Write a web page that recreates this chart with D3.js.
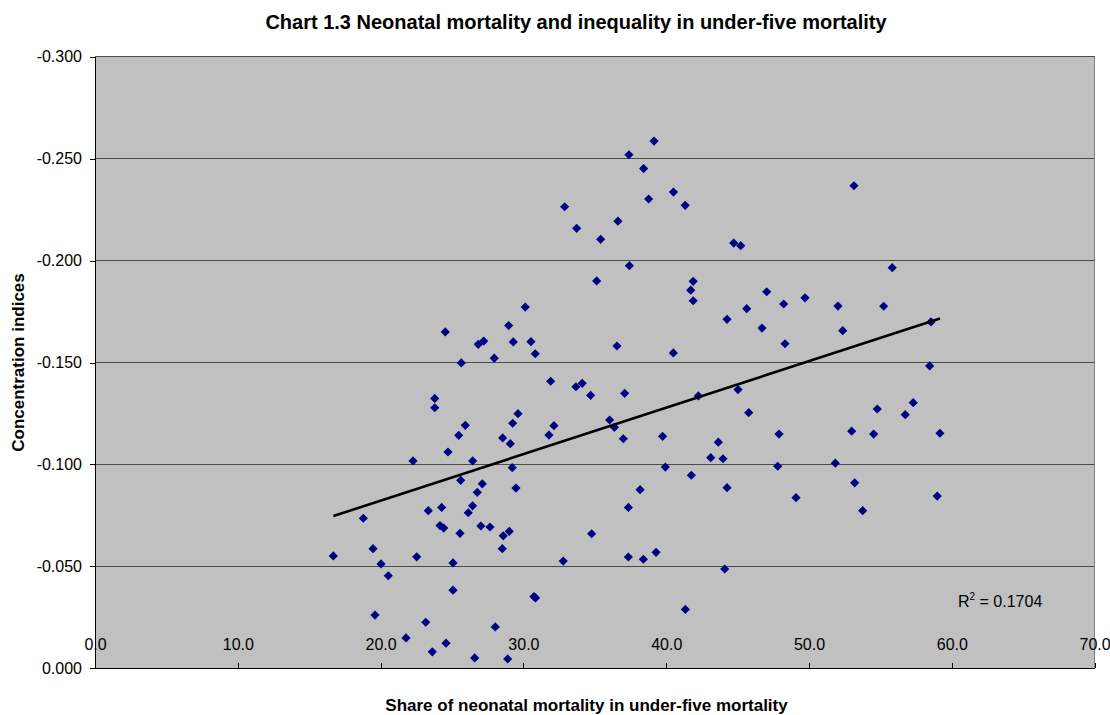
<!DOCTYPE html>
<html>
<head>
<meta charset="utf-8">
<script src="https://cdn.jsdelivr.net/npm/d3@7"></script>
<style>
  html, body { margin: 0; padding: 0; background: #ffffff; }
  svg { display: block; font-family: Arial, "Liberation Sans", Helvetica, sans-serif; }
</style>
</head>
<body>
<svg id="chart" width="1110" height="715"></svg>
<script>
// Share of neonatal mortality in under-five mortality (%), one value per country
const shareNeonatal = [
  39.15, 37.39, 38.42, 40.51, 38.77, 41.33, 32.89, 33.73, 36.62, 35.41,
  37.42, 53.15, 44.73, 45.22, 55.83, 35.13, 41.89, 41.72, 41.89, 30.13,
  47.04, 48.23, 49.72, 52.03, 55.23, 45.64,
  44.26, 46.71, 52.36, 58.54, 48.32, 40.50, 58.45, 45.03, 42.25, 45.78,
  54.78, 57.30, 56.74, 39.75, 43.65, 47.90, 52.99, 54.53, 59.17, 43.12,
  43.98, 39.94, 47.81, 51.84, 41.76, 44.26, 49.09, 53.20, 53.76, 58.98,
  24.53, 28.97, 26.84, 27.22, 29.29, 30.53, 30.83, 27.96, 36.55, 25.65,
  31.91, 33.68, 34.12, 34.71, 37.09, 23.79, 23.79, 29.62, 29.25, 25.93,
  32.14, 36.04, 36.37, 25.47, 28.55, 29.08, 31.79, 37.00, 24.72, 22.27,
  26.45, 29.22, 25.61, 27.12, 26.77, 29.48, 38.17, 37.35, 23.34, 24.28,
  26.44, 26.14, 18.79, 24.16, 24.42, 27.02, 27.66, 28.59, 29.01,
  25.56, 16.69, 19.47, 20.03, 20.54, 22.53, 25.07, 25.07, 19.61, 23.16,
  28.03, 21.78, 24.58, 23.62, 26.59, 28.52,
  30.74, 30.85, 28.90, 32.79, 34.78, 37.35, 38.40, 39.29, 44.10, 41.34
];

// Concentration index of under-five mortality for the same countries
const concIndex = [
  -0.2586, -0.2519, -0.2451, -0.2336, -0.2302, -0.2271, -0.2264, -0.2158, -0.2193, -0.2104,
  -0.1975, -0.2367, -0.2086, -0.2073, -0.1965, -0.1900, -0.1898, -0.1855, -0.1803, -0.1772,
  -0.1847, -0.1787, -0.1817, -0.1777, -0.1776, -0.1764,
  -0.1712, -0.1669, -0.1656, -0.1699, -0.1592, -0.1547, -0.1483, -0.1367, -0.1336, -0.1254,
  -0.1272, -0.1303, -0.1244, -0.1138, -0.1109, -0.1149, -0.1163, -0.1149, -0.1153, -0.1033,
  -0.1028, -0.0987, -0.0991, -0.1006, -0.0947, -0.0886, -0.0837, -0.0910, -0.0773, -0.0845,
  -0.1650, -0.1681, -0.1589, -0.1605, -0.1601, -0.1602, -0.1543, -0.1521, -0.1581, -0.1498,
  -0.1408, -0.1381, -0.1398, -0.1339, -0.1349, -0.1324, -0.1278, -0.1249, -0.1202, -0.1192,
  -0.1190, -0.1218, -0.1182, -0.1143, -0.1130, -0.1102, -0.1144, -0.1126, -0.1061, -0.1017,
  -0.1017, -0.0984, -0.0922, -0.0905, -0.0863, -0.0884, -0.0876, -0.0789, -0.0773, -0.0789,
  -0.0797, -0.0763, -0.0736, -0.0700, -0.0688, -0.0698, -0.0693, -0.0650, -0.0672,
  -0.0662, -0.0551, -0.0587, -0.0512, -0.0454, -0.0547, -0.0517, -0.0383, -0.0261, -0.0226,
  -0.0203, -0.0149, -0.0123, -0.0081, -0.0051, -0.0587,
  -0.0352, -0.0345, -0.0046, -0.0526, -0.0660, -0.0546, -0.0535, -0.0569, -0.0487, -0.0289
];

const xTicks = [0, 10, 20, 30, 40, 50, 60, 70];
const yTicks = [-0.300, -0.250, -0.200, -0.150, -0.100, -0.050, 0.000];
const rSquared = 0.1704;

const titleText = "Chart 1.3 Neonatal mortality and inequality in under-five mortality";
const xTitleText = "Share of neonatal mortality in under-five mortality";
const yTitleText = "Concentration indices";

// number formats with a plain hyphen for the minus sign
const locale = d3.formatLocale({ decimal: ".", thousands: ",", grouping: [3], currency: ["", ""], minus: "-" });
const fmtY = locale.format(".3f");
const fmtX = locale.format(".1f");

const svg = d3.select("#chart");
const plot = { left: 95, right: 1094.6, top: 56.7, bottom: 668.3 };

const x = d3.scaleLinear().domain([0, 70]).range([plot.left, plot.right]);
// values run from -0.300 at the top down to 0.000 at the bottom
const y = d3.scaleLinear().domain([-0.3, 0]).range([plot.top, plot.bottom]);

// plot area
svg.append("rect")
  .attr("x", plot.left).attr("y", plot.top)
  .attr("width", plot.right - plot.left).attr("height", plot.bottom - plot.top)
  .attr("fill", "#c0c0c0");

// horizontal gridlines
svg.append("g").selectAll("line")
  .data(yTicks.filter(v => v !== 0))
  .join("line")
  .attr("x1", plot.left).attr("x2", plot.right)
  .attr("y1", d => y(d)).attr("y2", d => y(d))
  .attr("stroke", "#4a4a4a").attr("stroke-width", 1)
  .attr("shape-rendering", "crispEdges");

// right border of the plot area
svg.append("line")
  .attr("x1", plot.right).attr("x2", plot.right)
  .attr("y1", plot.top).attr("y2", plot.bottom)
  .attr("stroke", "#808080").attr("stroke-width", 1)
  .attr("shape-rendering", "crispEdges");

// value axis
const yAxis = d3.axisLeft(y).tickValues(yTicks).tickFormat(fmtY)
  .tickSizeInner(5).tickSizeOuter(0).tickPadding(8);
const gy = svg.append("g").attr("transform", `translate(${plot.left},0)`).call(yAxis);
gy.selectAll("text").attr("font-size", 16).attr("fill", "#000").attr("font-family", "Arial, 'Liberation Sans', sans-serif");
gy.selectAll("line, path").attr("stroke", "#000").attr("shape-rendering", "crispEdges");

// category axis along the bottom, labels sit just above it
const xAxis = d3.axisTop(x).tickValues(xTicks).tickFormat(fmtX)
  .tickSizeInner(5).tickSizeOuter(0).tickPadding(13.5);
const gx = svg.append("g").attr("transform", `translate(0,${plot.bottom})`).call(xAxis);
gx.selectAll("text").attr("font-size", 16).attr("fill", "#000").attr("font-family", "Arial, 'Liberation Sans', sans-serif");
gx.selectAll("line, path").attr("stroke", "#000").attr("shape-rendering", "crispEdges");

// linear trend line (least squares) across the observed range
const n = shareNeonatal.length;
const mx = d3.mean(shareNeonatal), my = d3.mean(concIndex);
let sxy = 0, sxx = 0;
for (let i = 0; i < n; i++) {
  sxy += (shareNeonatal[i] - mx) * (concIndex[i] - my);
  sxx += (shareNeonatal[i] - mx) ** 2;
}
const slope = sxy / sxx, intercept = my - slope * mx;
const [xMin, xMax] = d3.extent(shareNeonatal);
const trend = [xMin, xMax].map(v => [v, intercept + slope * v]);

// scatter markers (diamonds)
const diamond = "M0,-4.6L4.6,0L0,4.6L-4.6,0Z";
svg.append("g").selectAll("path")
  .data(d3.range(n))
  .join("path")
  .attr("d", diamond)
  .attr("transform", i => `translate(${x(shareNeonatal[i])},${y(concIndex[i])})`)
  .attr("fill", "#000080");

svg.append("path")
  .datum(trend)
  .attr("d", d3.line().x(d => x(d[0])).y(d => y(d[1])))
  .attr("fill", "none").attr("stroke", "#000").attr("stroke-width", 2.6);

// R-squared label
const rLabel = svg.append("text")
  .attr("x", 958).attr("y", 606.5)
  .attr("font-size", 16).attr("fill", "#000");
rLabel.append("tspan").text("R");
rLabel.append("tspan").attr("font-size", 10).attr("dy", -7).text("2");
rLabel.append("tspan").attr("dy", 7).text(" = " + rSquared.toFixed(4));

// titles
svg.append("text")
  .attr("x", 576).attr("y", 29)
  .attr("text-anchor", "middle").attr("font-size", 20).attr("font-weight", "bold")
  .text(titleText);

svg.append("text")
  .attr("x", 586.5).attr("y", 711)
  .attr("text-anchor", "middle").attr("font-size", 17).attr("font-weight", "bold")
  .text(xTitleText);

svg.append("text")
  .attr("transform", "translate(24,362.5) rotate(-90)")
  .attr("text-anchor", "middle").attr("font-size", 17).attr("font-weight", "bold")
  .text(yTitleText);
</script>
</body>
</html>
